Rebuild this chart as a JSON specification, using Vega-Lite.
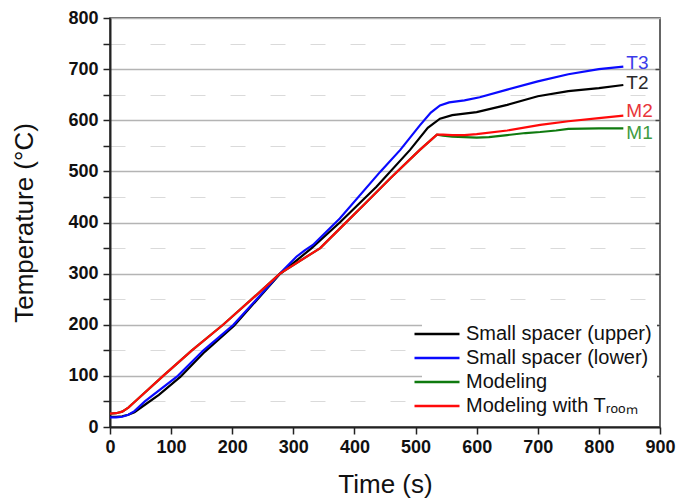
{
  "$schema": "https://vega.github.io/schema/vega-lite/v6.json",
  "autosize": "none",
  "width": 550,
  "height": 409,
  "padding": {"left": 110, "top": 18, "right": 17, "bottom": 77},
  "background": "white",
  "config": {
    "view": {"stroke": "#333333", "strokeWidth": 1.5},
    "font": "Liberation Sans"
  },
  "datasets": {
    "curves": [
      {"series": "Small spacer (upper)", "t": 0, "T": 20},
      {"series": "Small spacer (upper)", "t": 10, "T": 20},
      {"series": "Small spacer (upper)", "t": 20, "T": 21},
      {"series": "Small spacer (upper)", "t": 30, "T": 24},
      {"series": "Small spacer (upper)", "t": 40, "T": 29},
      {"series": "Small spacer (upper)", "t": 60, "T": 46},
      {"series": "Small spacer (upper)", "t": 80, "T": 63},
      {"series": "Small spacer (upper)", "t": 115, "T": 98},
      {"series": "Small spacer (upper)", "t": 155, "T": 147},
      {"series": "Small spacer (upper)", "t": 203, "T": 198},
      {"series": "Small spacer (upper)", "t": 240, "T": 248},
      {"series": "Small spacer (upper)", "t": 278, "T": 299},
      {"series": "Small spacer (upper)", "t": 330, "T": 350},
      {"series": "Small spacer (upper)", "t": 376, "T": 400},
      {"series": "Small spacer (upper)", "t": 436, "T": 470},
      {"series": "Small spacer (upper)", "t": 491, "T": 542},
      {"series": "Small spacer (upper)", "t": 520, "T": 585},
      {"series": "Small spacer (upper)", "t": 540, "T": 603},
      {"series": "Small spacer (upper)", "t": 560, "T": 610},
      {"series": "Small spacer (upper)", "t": 600, "T": 616},
      {"series": "Small spacer (upper)", "t": 650, "T": 630},
      {"series": "Small spacer (upper)", "t": 700, "T": 647},
      {"series": "Small spacer (upper)", "t": 750, "T": 657},
      {"series": "Small spacer (upper)", "t": 800, "T": 663},
      {"series": "Small spacer (upper)", "t": 840, "T": 669},
      {"series": "Small spacer (lower)", "t": 0, "T": 19},
      {"series": "Small spacer (lower)", "t": 10, "T": 19},
      {"series": "Small spacer (lower)", "t": 20, "T": 20},
      {"series": "Small spacer (lower)", "t": 30, "T": 24},
      {"series": "Small spacer (lower)", "t": 40, "T": 31},
      {"series": "Small spacer (lower)", "t": 57, "T": 50},
      {"series": "Small spacer (lower)", "t": 111, "T": 100},
      {"series": "Small spacer (lower)", "t": 153, "T": 150},
      {"series": "Small spacer (lower)", "t": 202, "T": 200},
      {"series": "Small spacer (lower)", "t": 240, "T": 250},
      {"series": "Small spacer (lower)", "t": 278, "T": 300},
      {"series": "Small spacer (lower)", "t": 305, "T": 333},
      {"series": "Small spacer (lower)", "t": 318, "T": 345},
      {"series": "Small spacer (lower)", "t": 332, "T": 356},
      {"series": "Small spacer (lower)", "t": 376, "T": 408},
      {"series": "Small spacer (lower)", "t": 442, "T": 499},
      {"series": "Small spacer (lower)", "t": 475, "T": 542},
      {"series": "Small spacer (lower)", "t": 507, "T": 590},
      {"series": "Small spacer (lower)", "t": 525, "T": 615},
      {"series": "Small spacer (lower)", "t": 540, "T": 629},
      {"series": "Small spacer (lower)", "t": 555, "T": 635},
      {"series": "Small spacer (lower)", "t": 580, "T": 639},
      {"series": "Small spacer (lower)", "t": 605, "T": 645},
      {"series": "Small spacer (lower)", "t": 650, "T": 660},
      {"series": "Small spacer (lower)", "t": 700, "T": 676},
      {"series": "Small spacer (lower)", "t": 750, "T": 690},
      {"series": "Small spacer (lower)", "t": 800, "T": 700},
      {"series": "Small spacer (lower)", "t": 840, "T": 705},
      {"series": "Modeling", "t": 0, "T": 26},
      {"series": "Modeling", "t": 10, "T": 27},
      {"series": "Modeling", "t": 20, "T": 30},
      {"series": "Modeling", "t": 30, "T": 38},
      {"series": "Modeling", "t": 41, "T": 50},
      {"series": "Modeling", "t": 87, "T": 100},
      {"series": "Modeling", "t": 134, "T": 150},
      {"series": "Modeling", "t": 185, "T": 200},
      {"series": "Modeling", "t": 232, "T": 250},
      {"series": "Modeling", "t": 278, "T": 300},
      {"series": "Modeling", "t": 344, "T": 350},
      {"series": "Modeling", "t": 376, "T": 388},
      {"series": "Modeling", "t": 420, "T": 440},
      {"series": "Modeling", "t": 460, "T": 488},
      {"series": "Modeling", "t": 507, "T": 542},
      {"series": "Modeling", "t": 535, "T": 572},
      {"series": "Modeling", "t": 545, "T": 570},
      {"series": "Modeling", "t": 560, "T": 568},
      {"series": "Modeling", "t": 580, "T": 567},
      {"series": "Modeling", "t": 600, "T": 566},
      {"series": "Modeling", "t": 620, "T": 567},
      {"series": "Modeling", "t": 650, "T": 571},
      {"series": "Modeling", "t": 680, "T": 575},
      {"series": "Modeling", "t": 704, "T": 577},
      {"series": "Modeling", "t": 730, "T": 580},
      {"series": "Modeling", "t": 750, "T": 583},
      {"series": "Modeling", "t": 800, "T": 584},
      {"series": "Modeling", "t": 840, "T": 584},
      {"series": "Modeling with Tᵣₒₒₘ", "t": 0, "T": 26},
      {"series": "Modeling with Tᵣₒₒₘ", "t": 10, "T": 27},
      {"series": "Modeling with Tᵣₒₒₘ", "t": 20, "T": 30},
      {"series": "Modeling with Tᵣₒₒₘ", "t": 30, "T": 38},
      {"series": "Modeling with Tᵣₒₒₘ", "t": 41, "T": 50},
      {"series": "Modeling with Tᵣₒₒₘ", "t": 87, "T": 100},
      {"series": "Modeling with Tᵣₒₒₘ", "t": 134, "T": 150},
      {"series": "Modeling with Tᵣₒₒₘ", "t": 185, "T": 200},
      {"series": "Modeling with Tᵣₒₒₘ", "t": 232, "T": 250},
      {"series": "Modeling with Tᵣₒₒₘ", "t": 278, "T": 300},
      {"series": "Modeling with Tᵣₒₒₘ", "t": 344, "T": 350},
      {"series": "Modeling with Tᵣₒₒₘ", "t": 376, "T": 388},
      {"series": "Modeling with Tᵣₒₒₘ", "t": 420, "T": 440},
      {"series": "Modeling with Tᵣₒₒₘ", "t": 460, "T": 488},
      {"series": "Modeling with Tᵣₒₒₘ", "t": 507, "T": 542},
      {"series": "Modeling with Tᵣₒₒₘ", "t": 535, "T": 572},
      {"series": "Modeling with Tᵣₒₒₘ", "t": 545, "T": 572},
      {"series": "Modeling with Tᵣₒₒₘ", "t": 560, "T": 571},
      {"series": "Modeling with Tᵣₒₒₘ", "t": 580, "T": 571},
      {"series": "Modeling with Tᵣₒₒₘ", "t": 600, "T": 573},
      {"series": "Modeling with Tᵣₒₒₘ", "t": 650, "T": 580},
      {"series": "Modeling with Tᵣₒₒₘ", "t": 704, "T": 591},
      {"series": "Modeling with Tᵣₒₒₘ", "t": 750, "T": 598},
      {"series": "Modeling with Tᵣₒₒₘ", "t": 800, "T": 604},
      {"series": "Modeling with Tᵣₒₒₘ", "t": 840, "T": 609}
    ],
    "endLabels": [
      {"label": "T3", "t": 840, "T": 712},
      {"label": "T2", "t": 840, "T": 672},
      {"label": "M2", "t": 840, "T": 618},
      {"label": "M1", "t": 840, "T": 576}
    ]
  },
  "layer": [
    {
      "data": {"name": "curves"},
      "mark": {"type": "line", "strokeWidth": 2.2, "interpolate": "linear"},
      "encoding": {
        "x": {
          "field": "t", "type": "quantitative",
          "scale": {"domain": [0, 900], "nice": false},
          "axis": {
            "title": "Time (s)",
            "values": [0, 50, 100, 150, 200, 250, 300, 350, 400, 450, 500, 550, 600, 650, 700, 750, 800, 850, 900],
            "labelExpr": "datum.value % 100 == 0 ? datum.label : ''",
            "grid": false,
            "tickSize": 7, "tickWidth": 1.5, "tickColor": "#222222",
            "domainColor": "#222222", "domainWidth": 2,
            "labelFont": "Liberation Sans", "labelFontWeight": "bold", "labelFontSize": 18, "labelColor": "#111111",
            "labelPadding": 4, "labelFlush": false, "labelOverlap": false,
            "titleFont": "Liberation Sans", "titleFontWeight": "normal", "titleFontSize": 26, "titleColor": "#111111",
            "titlePadding": 15
          }
        },
        "y": {
          "field": "T", "type": "quantitative",
          "scale": {"domain": [0, 800], "nice": false},
          "axis": {
            "title": "Temperature (°C)",
            "values": [0, 50, 100, 150, 200, 250, 300, 350, 400, 450, 500, 550, 600, 650, 700, 750, 800],
            "labelExpr": "datum.value % 100 == 0 ? datum.label : ''",
            "grid": true,
            "gridColor": {"condition": {"test": "datum.value % 100 == 0", "value": "#b4b4b4"}, "value": "#dadada"},
            "gridDash": {"condition": {"test": "datum.value % 100 == 0", "value": []}, "value": [15, 25]},
            "gridWidth": {"condition": {"test": "datum.value % 100 == 0", "value": 1.5}, "value": 1},
            "tickSize": 7, "tickWidth": 1.5, "tickColor": "#222222",
            "domainColor": "#222222", "domainWidth": 2,
            "labelFont": "Liberation Sans", "labelFontWeight": "bold", "labelFontSize": 18, "labelColor": "#111111",
            "labelPadding": 5, "labelFlush": false, "labelOverlap": false,
            "titleFont": "Liberation Sans", "titleFontWeight": "normal", "titleFontSize": 26, "titleColor": "#111111",
            "titlePadding": 30
          }
        },
        "color": {
          "field": "series", "type": "nominal",
          "scale": {
            "domain": ["Small spacer (upper)", "Small spacer (lower)", "Modeling", "Modeling with Tᵣₒₒₘ"],
            "range": ["#000000", "#0a0aff", "#0f7a0f", "#ff0a0a"]
          },
          "legend": {
            "title": null,
            "orient": "none",
            "legendX": 312,
            "legendY": 301,
            "fillColor": "white",
            "padding": 5,
            "symbolType": "M-3,0H3",
            "symbolSize": 225,
            "symbolStrokeWidth": 2.5,
            "labelFont": "Liberation Sans",
            "labelFontSize": 20,
            "labelColor": "#111111",
            "labelOffset": 19,
            "rowPadding": 4,
            "labelLimit": 400
          }
        }
      }
    },
    {
      "data": {"name": "endLabels"},
      "mark": {"type": "text", "align": "left", "baseline": "middle", "dx": 3, "fontSize": 19, "font": "Liberation Sans"},
      "encoding": {
        "x": {"field": "t", "type": "quantitative"},
        "y": {
          "field": "T", "type": "quantitative",
          "axis": {
            "orient": "right", "title": null, "labels": false, "domain": false, "grid": false,
            "values": [100, 200, 300, 400, 500, 600, 700],
            "tickSize": -5, "tickWidth": 1.5, "tickColor": "#444444"
          }
        },
        "text": {"field": "label"},
        "color": {
          "field": "label", "type": "nominal",
          "scale": {"domain": ["T3", "T2", "M2", "M1"], "range": ["#3b3bea", "#2a2a2a", "#e8353a", "#3f9b3f"]},
          "legend": null
        }
      }
    }
  ],
  "resolve": {"scale": {"color": "independent"}, "axis": {"y": "independent"}}
}
